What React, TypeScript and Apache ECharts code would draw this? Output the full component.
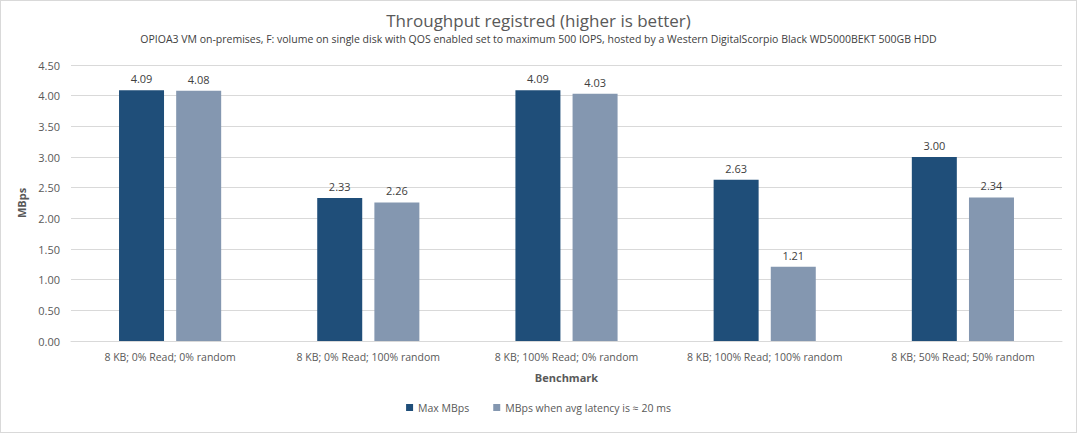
import React, { useEffect, useRef } from "react";
import * as echarts from "echarts";

const categories = [
  "8 KB; 0% Read; 0% random",
  "8 KB; 0% Read; 100% random",
  "8 KB; 100% Read; 0% random",
  "8 KB; 100% Read; 100% random",
  "8 KB; 50% Read; 50% random",
];
const maxMBps = [4.09, 2.33, 4.09, 2.63, 3.0];
const latencyMBps = [4.08, 2.26, 4.03, 1.21, 2.34];
const seriesNames = ["Max MBps", "MBps when avg latency is ≈ 20 ms"];

const FONT = "'Open Sans', 'Noto Sans', sans-serif";
const TXT = "#595959";

export default function App() {
  const ref = useRef<HTMLDivElement>(null);
  useEffect(() => {
    if (!ref.current) return;
    const chart = echarts.init(ref.current, undefined, { renderer: "svg" });
    const label = {
      show: true,
      position: "top",
      formatter: (p: any) => Number(p.value).toFixed(2),
      color: "#404040",
      fontSize: 11,
      fontFamily: FONT,
      distance: 6,
    };
    chart.setOption({
      animation: false,
      backgroundColor: "#ffffff",
      title: {
        text: "Throughput registred (higher is better)",
        subtext:
          "OPIOA3 VM on-premises, F: volume on single disk with QOS enabled set to maximum 500 IOPS, hosted by a Western DigitalScorpio Black WD5000BEKT 500GB HDD",
        left: "center",
        top: 6,
        itemGap: 4,
        textStyle: { color: TXT, fontSize: 17, fontWeight: "normal", fontFamily: FONT },
        subtextStyle: { color: "#404040", fontSize: 10.5, fontFamily: FONT },
      },
      legend: {
        bottom: 14,
        left: "center",
        itemWidth: 7,
        itemHeight: 7,
        itemGap: 24,
        icon: "rect",
        textStyle: { color: TXT, fontSize: 10.5, fontFamily: FONT },
        data: seriesNames,
      },
      grid: { left: 70, right: 14, top: 64, bottom: 91 },
      xAxis: {
        type: "category",
        data: categories,
        name: "Benchmark",
        nameLocation: "middle",
        nameGap: 31,
        nameTextStyle: { color: TXT, fontSize: 11, fontWeight: "bold", fontFamily: FONT },
        axisLine: { lineStyle: { color: "#d9d9d9" } },
        axisTick: { show: false },
        axisLabel: { color: TXT, fontSize: 10.5, fontFamily: FONT, margin: 10, interval: 0 },
      },
      yAxis: {
        type: "value",
        min: 0,
        max: 4.5,
        interval: 0.5,
        name: "MBps",
        nameLocation: "middle",
        nameGap: 38,
        nameTextStyle: { color: TXT, fontSize: 11, fontWeight: "bold", fontFamily: FONT },
        axisLabel: {
          color: TXT,
          fontSize: 11,
          fontFamily: FONT,
          formatter: (v: number) => v.toFixed(2),
          margin: 11,
        },
        splitLine: { lineStyle: { color: "#d9d9d9" } },
        axisLine: { show: false },
      },
      series: [
        {
          name: seriesNames[0],
          type: "bar",
          data: maxMBps,
          barWidth: 45,
          barGap: "27%",
          itemStyle: { color: "#1F4E79" },
          label,
        },
        {
          name: seriesNames[1],
          type: "bar",
          data: latencyMBps,
          barWidth: 45,
          itemStyle: { color: "#8497B0" },
          label,
        },
      ],
    });
    return () => chart.dispose();
  }, []);
  return (
    <div
      ref={ref}
      style={{
        width: 1075,
        height: 431,
        border: "1px solid #d9d9d9",
        position: "absolute",
        left: 0,
        top: 0,
      }}
    />
  );
}
